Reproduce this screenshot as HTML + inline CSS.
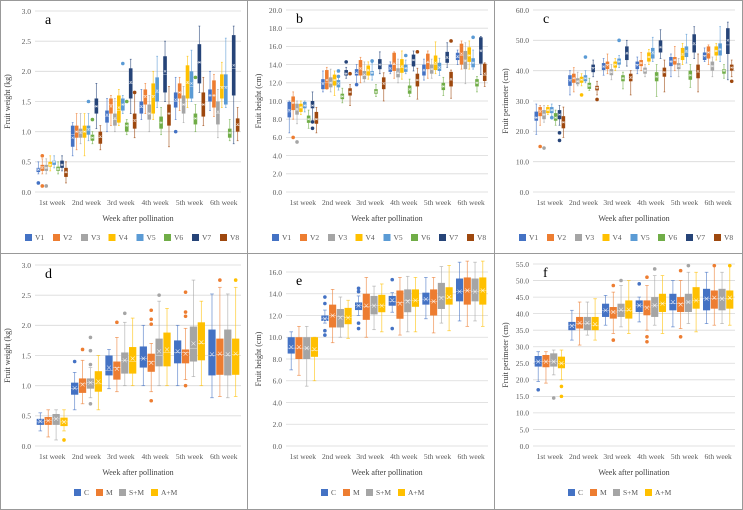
<!DOCTYPE html>
<html><head><meta charset="utf-8">
<style>
html,body{margin:0;padding:0;background:#fff;}
svg{display:block;font-family:"Liberation Serif",serif;}
</style></head>
<body>
<svg id="chart" width="743" height="510" viewBox="0 0 743 510" xmlns="http://www.w3.org/2000/svg">
<rect x="0.5" y="0.5" width="742" height="509" fill="#fff" stroke="#999"/>
<line x1="247.5" y1="0" x2="247.5" y2="510" stroke="#999"/>
<line x1="494.5" y1="0" x2="494.5" y2="510" stroke="#999"/>
<line x1="0" y1="253.5" x2="743" y2="253.5" stroke="#999"/>
</svg>
<script>
const weeks = ["1st week","2nd week","3rd week","4th week","5th week","6th week"];
const varieties = ["V1","V2","V3","V4","V5","V6","V7","V8"];
const treatments = ["C","M","S+M","A+M"];
const varColors = ["#4472C4","#ED7D31","#A5A5A5","#FFC000","#5B9BD5","#70AD47","#264478","#9E480E"];
const trtColors = ["#4472C4","#ED7D31","#A5A5A5","#FFC000"];
// each box: [min, q1, median, q3, max, mean]
const aV1=[[0.3,0.33,0.38,0.4,0.5,0.37],[0.6,0.75,0.95,1.1,1.15,0.9],[1.0,1.15,1.25,1.35,1.55,1.28],[1.2,1.3,1.4,1.5,1.7,1.42],[1.2,1.4,1.5,1.65,1.9,1.53],[1.35,1.5,1.6,1.7,2.0,1.6]];
const aV2=[[0.3,0.35,0.42,0.45,0.55,0.4],[0.7,0.9,1.0,1.1,1.3,1.0],[1.1,1.3,1.45,1.55,1.6,1.42],[1.3,1.45,1.6,1.7,1.8,1.58],[1.35,1.55,1.65,1.8,1.9,1.65],[1.25,1.4,1.6,1.85,1.95,1.6]];
const aV3=[[0.3,0.35,0.4,0.45,0.55,0.4],[0.8,0.9,1.0,1.05,1.3,0.98],[1.0,1.1,1.2,1.3,1.55,1.22],[1.0,1.2,1.3,1.45,1.6,1.3],[1.15,1.3,1.45,1.6,1.75,1.45],[0.9,1.12,1.3,1.5,1.7,1.33]];
const aV4=[[0.35,0.42,0.45,0.5,0.6,0.45],[0.6,0.9,1.0,1.1,1.3,1.0],[1.1,1.15,1.35,1.6,1.7,1.4],[1.2,1.3,1.6,1.8,2.0,1.58],[1.4,1.55,1.8,2.1,2.25,1.82],[1.4,1.55,1.75,1.95,2.15,1.73]];
const aV5=[[0.4,0.45,0.5,0.52,0.6,0.5],[0.85,0.95,1.05,1.1,1.3,1.03],[1.3,1.35,1.45,1.55,1.6,1.45],[1.4,1.5,1.65,1.9,2.25,1.68],[1.5,1.55,1.75,2.0,2.35,1.8],[1.4,1.45,1.75,1.95,2.55,1.73]];
const aV6=[[0.3,0.35,0.38,0.42,0.5,0.38],[0.8,0.85,0.9,0.95,1.0,0.9],[0.95,1.0,1.1,1.15,1.2,1.1],[0.95,1.05,1.15,1.25,1.4,1.15],[1.0,1.12,1.22,1.3,1.45,1.22],[0.85,0.9,0.98,1.05,1.2,0.98]];
const aV7=[[0.35,0.4,0.45,0.52,0.6,0.45],[1.05,1.3,1.42,1.55,1.8,1.42],[1.3,1.55,1.8,2.05,2.2,1.82],[1.5,1.65,1.95,2.25,2.5,2.0],[1.65,1.8,2.15,2.45,2.75,2.15],[0.8,1.6,2.05,2.6,2.75,2.1]];
const aV8=[[0.15,0.25,0.32,0.4,0.5,0.33],[0.7,0.8,0.9,1.0,1.1,0.92],[0.9,1.05,1.2,1.3,1.65,1.18],[0.75,1.1,1.3,1.45,1.75,1.3],[1.1,1.25,1.45,1.65,1.9,1.45],[0.85,1.0,1.1,1.22,1.4,1.12]];
const aOut=[[0,0,0.15],[0,1,0.6],[0,1,0.1],[0,2,0.1],[1,4,1.5],[1,5,1.2],[2,4,2.13],[2,5,1.5],[4,0,1.0],[4,5,1.9],[2,7,1.65]];

const bV1=[[6.5,8.2,8.8,9.9,10,9.0],[11,11.3,12,12.4,13.3,11.9],[11.8,12.8,13,13.5,14,13.1],[13,13.2,13.5,14,14.3,13.6],[12.3,12.8,13.3,14,14.6,13.4],[14,14.5,14.8,15.3,15.6,14.9]];
const bV2=[[8,9,9.8,10.5,11,9.8],[11.3,11.3,12,13.4,13.7,12.3],[12,12.8,13.5,14.5,14.8,13.6],[12.5,13.3,14,15.3,15.4,14.1],[12.5,13.5,14.2,15.2,15.5,14.3],[13.5,14,15,16.3,16.6,15.2]];
const bV3=[[7.5,8.5,9,9.7,10,9.1],[11,11.5,12,12.6,13.5,12],[12.1,12.4,12.8,13.3,14.3,12.9],[12,12.6,13,13.6,14.6,13.1],[12.5,13,13.5,14,14.6,13.5],[11.9,13.5,14.5,15.5,16.4,14.4]];
const bV4=[[8.5,8.8,9.3,9.7,10,9.3],[10.6,11.7,12.3,12.9,13.3,12.3],[12.4,12.8,13.3,13.9,14.3,13.4],[12.4,13.1,13.7,14.6,15.5,13.8],[13,13.4,14,15,16.5,14.2],[13.5,14.3,15,15.9,16.6,15]];
const bV5=[[8.8,9.2,9.5,9.9,10,9.5],[11.2,11.5,12,12.3,12.7,11.9],[12.3,12.8,13.1,13.3,14.2,13.1],[13,13.2,13.6,14,14.5,13.6],[12.8,13.3,13.6,14.2,14.7,13.7],[13.5,13.7,14.2,14.7,15.6,14.2]];
const bV6=[[7,7.6,8,8.4,9,8],[9.8,10.2,10.5,10.8,11.4,10.5],[10.5,10.8,11,11.3,11.8,11],[10.5,10.8,11.2,11.7,12.4,11.3],[10.6,11.2,11.6,12,12.6,11.6],[11,11.6,12,12.4,12.7,12]];
const bV7=[[7.6,9.2,9.5,10,11,9.5],[12.5,12.8,13,13.4,13.7,13],[13,13.5,14,14.6,15.4,14],[13.3,13.8,14.5,15.1,15.5,14.5],[13.7,14.2,14.7,15.4,16.4,14.8],[12.9,14.1,15.6,17,17.1,15.5]];
const bV8=[[6.5,7.5,8,8.8,9.3,8],[9.5,10.6,11,11.4,11.8,11],[10,11.3,12,12.6,13.1,11.9],[10.2,11.6,12.3,13,13.6,12.3],[10.3,11.6,12.3,13.2,13.4,12.4],[11.6,12.2,12.8,14.1,14.2,13]];
const bOut=[[0,1,6],[0,2,5.5],[0,6,7],[0,6,7.7],[1,6,14.3],[1,7,13],[1,4,13.3],[1,4,12.7],[2,0,11.8],[2,4,14.4],[3,7,15.4],[3,4,15],[4,7,16.6],[5,4,17]];

const cV1=[[19,23.5,24.5,26.5,29,24.5],[32,35,37,38.5,40,36.8],[38.5,40.2,41.5,42.5,44,41.3],[39,40.5,42,43,44.5,41.8],[38,41.5,43,44.5,45.5,43],[43,43.5,45,46,47.5,44.8]];
const cV2=[[22,25,27,28,28.5,26.5],[33,36,37.5,39,41,37.5],[39,40.5,42,43,45.5,41.8],[40,41.5,42.5,43.5,46,42.5],[40,42,43.5,44.5,48,43.5],[42,44,46,48,48.5,46]];
const cV3=[[23,24,25.5,27,28.5,25.5],[35,35.5,36.5,37.5,39.5,36.5],[37,38.5,39.5,40.5,42,39.5],[38,39,40,41,42,40],[38,40.5,41.5,42.5,44,41.5],[38,40,41.5,43,44.5,41.5]];
const cV4=[[25.5,26,27,28,28.5,27],[35,36,37,38,39,37],[40,41,42,43,44,42],[42,43,44.5,46,47,44.5],[42,43.5,45,47.5,49,45.5],[43.5,45,46.5,48,49,46.5]];
const cV5=[[25,26,27,28,29,27],[36,36.5,37.5,38.5,40,37.5],[41,42,43,44,45,43],[43,44,45.5,47.5,51,46],[42.5,44.5,46,48,52,46.5],[43,45,47,49,54.5,47]];
const cV6=[[22,23.5,24.5,26,27,24.5],[33.5,34,35,36,37.5,35],[34,36.5,37.5,38.5,39.5,37.5],[31.5,36.5,38,39.5,42,38],[34.5,37,38.5,40,42,38.5],[37.5,39,40,40.5,42,40]];
const cV7=[[22,24,25.5,27,28.5,25.5],[38,39.5,41,42,43.5,40.8],[41.5,43.5,45.5,48,50,45.8],[44,46,47.5,50,53.5,47.8],[44,46,48.5,52,54.5,49],[37,45.5,48.5,54,56,50]];
const cV8=[[18,21,23,25,28,23],[32,33.5,34.5,35,36.5,34.3],[32,36.5,37.5,39,40,37.8],[33,38,39.5,41,43.5,39.5],[33,37.5,39.5,42,45.5,39.8],[38,40,41,42,43.5,41]];
const cOut=[[0,1,15],[0,2,14.5],[0,6,19.5],[0,6,17],[0,4,24.5],[1,3,32],[1,4,44.5],[1,7,30.5],[2,4,50],[5,7,36.5]];

const dC=[[0.25,0.35,0.4,0.45,0.55,0.41],[0.6,0.85,0.95,1.05,1.22,0.96],[0.95,1.17,1.25,1.5,1.6,1.3],[1.0,1.3,1.45,1.65,2.0,1.45],[1.0,1.37,1.55,1.75,2.0,1.57],[0.8,1.17,1.5,1.93,2.52,1.52]];
const dM=[[0.15,0.35,0.42,0.48,0.6,0.42],[0.7,0.88,1.03,1.12,1.42,1.02],[0.9,1.1,1.3,1.4,1.8,1.28],[0.9,1.23,1.4,1.53,1.7,1.38],[1.1,1.37,1.55,1.6,1.95,1.53],[0.82,1.18,1.52,1.78,2.63,1.53]];
const dSM=[[0.1,0.35,0.45,0.53,0.6,0.45],[0.8,0.95,1.05,1.12,1.3,1.05],[1.0,1.2,1.42,1.55,2.05,1.42],[1.0,1.32,1.5,1.78,2.4,1.57],[1.15,1.4,1.62,1.98,2.75,1.7],[0.8,1.17,1.5,1.93,2.52,1.52]];
const dAM=[[0.25,0.33,0.4,0.47,0.6,0.4],[0.6,0.9,1.03,1.24,1.5,1.07],[1.0,1.2,1.4,1.64,2.12,1.45],[1.0,1.32,1.55,1.88,2.28,1.6],[1.0,1.42,1.7,2.05,2.4,1.72],[0.82,1.18,1.52,1.78,2.63,1.53]];
const dOut=[[1,0,1.4],[1,1,1.6],[1,2,1.8],[1,2,1.58],[1,2,1.35],[1,2,0.7],[0,3,0.1],[2,1,2.05],[2,2,2.2],[3,1,2.25],[3,1,2.1],[3,1,2.02],[3,1,0.75],[3,2,2.5],[4,1,2.55],[4,1,2.22],[4,1,2.15],[4,1,1.0],[5,1,2.75],[5,3,2.75]];

const eC=[[7,8.5,9,10,10.5,9.1],[11.3,11.5,11.7,12,12.5,11.7],[12,12.5,12.9,13.2,13.8,12.9],[12.3,12.9,13.3,13.8,14.1,13.4],[11.7,13,13.5,14.1,15.5,13.5],[11.5,13.3,14.2,15.4,16.9,14.2]];
const eM=[[6.5,8,9,10,11,9.1],[9.5,10.9,12,13,14.4,12],[10,11.6,12.8,14,15.5,12.9],[10.2,11.7,13.2,14.3,15.5,13.1],[10.4,12,13.3,14.4,15.5,13.3],[11,13,14.3,15.5,17,14.3]];
const eSM=[[5.5,8,9,10,11,9],[10,10.9,11.9,12.6,13.7,11.8],[10.7,12.1,12.9,13.8,14.7,12.9],[10.5,12.3,13.4,14.4,15.6,13.3],[11.3,12.6,13.7,15,16.5,13.6],[11.5,13.3,14.2,15.4,16.9,14.2]];
const eAM=[[6,8.2,8.8,10,10,8.9],[9.9,11.2,11.8,12.7,13.4,11.8],[10.5,12.3,12.9,13.9,14.9,12.9],[10.5,12.8,13.4,14.4,15.5,13.4],[10.6,13,13.6,14.6,16.6,13.7],[11,13,14.3,15.5,17,14.3]];
const eOut=[[1,0,13.7],[1,0,13.1],[1,0,10.6],[1,0,10.2],[2,0,14.5],[2,0,14.2],[2,0,11.3],[2,0,10.8],[3,0,15.3],[3,0,10.8]];

const fC=[[19.5,24,25.5,27.2,28.5,25.5],[32,35,36.5,37.5,41,36.3],[36.5,39,41,43,45.5,41],[37.5,40.5,42.5,44,45,42.5],[36,41,43,46,50,43.5],[37,41,44.5,47.5,52.5,44.5]];
const fM=[[19,23.8,25.5,27.5,28.5,25.5],[30.5,35.5,37,39,43.5,37.2],[34,38.5,40.5,42,46.5,40.5],[35,39.5,42,44,48.5,41.8],[35.5,40.5,43,45,50,42.8],[36.5,41.5,44.5,47,54.5,44.8]];
const fSM=[[21.5,24,25.5,28,29,25.5],[33.5,35,37,39,43.5,37.2],[36,39,41,43,48.5,41.2],[36.5,39,42.5,45,51.5,42.5],[37,40.5,43.5,46,52.5,43.5],[37,41,44.5,47.5,52.5,44.5]];
const fAM=[[20,23.5,25,27,29,25],[32,35,36.5,39,44.5,36.8],[34,38.5,41,44,50,41.2],[34,40.5,43,46,51.5,43],[34.5,41.5,44,48,52.5,44],[36.5,41.5,44.5,47,54.5,44.8]];
const fOut=[[0,0,17],[0,2,14.5],[0,3,18],[0,3,15],[2,1,48.5],[2,1,32],[2,2,50],[3,0,49],[3,1,51],[3,1,33],[3,1,31.5],[3,2,53.5],[4,1,53],[4,1,33],[4,2,54.5],[5,1,54.5],[5,3,54.5]];

const aTicks=["0.0","0.5","1.0","1.5","2.0","2.5","3.0"];
const bTicks=["0.0","2.0","4.0","6.0","8.0","10.0","12.0","14.0","16.0","18.0","20.0"];
const cTicks=["0.0","10.0","20.0","30.0","40.0","50.0","60.0"];
const dTicks=aTicks;
const eTicks=["0.0","2.0","4.0","6.0","8.0","10.0","12.0","14.0","16.0"];
const fTicks=["0.0","5.0","10.0","15.0","20.0","25.0","30.0","35.0","40.0","45.0","50.0","55.0"];

const NS="http://www.w3.org/2000/svg";
const svg=document.getElementById('chart');
function mk(tag,attrs,parent){const e=document.createElementNS(NS,tag);for(const k in attrs)e.setAttribute(k,attrs[k]);(parent||svg).appendChild(e);return e;}

function panel(cfg){
  const g=mk('g',{});
  
  
  const ticks=cfg.ticks;
  const tmin=parseFloat(ticks[0]), tmax=parseFloat(ticks[ticks.length-1]);
  const y=v=>cfg.yBot-(v-tmin)/(tmax-tmin)*(cfg.yBot-cfg.yTop);
  const catW=(cfg.R-cfg.L)/weeks.length;
  ticks.forEach(t=>{
    const v=parseFloat(t);
    const gl=mk('line',{x1:cfg.L,x2:cfg.R,y1:y(v),y2:y(v),stroke:'#d9d9d9','stroke-width':0.8},g);
    
    
    const tl=mk('text',{x:cfg.L-4,y:y(v)+2.8,'font-size':7.5,'text-anchor':'end',fill:'#595959'},g);
    tl.textContent=t;
    
    
  });
  const yt=mk('text',{x:0,y:0,'font-size':8,'text-anchor':'middle',fill:'#404040',transform:`translate(${cfg.L-25},${(cfg.yTop+cfg.yBot)/2}) rotate(-90)`},g);
  yt.textContent=cfg.ytitle;
  
  
  const lt=mk('text',{x:cfg.L+10,y:cfg.yTop+13,'font-size':14,fill:'#000'},g);
  lt.textContent=cfg.letter;
  
  
  weeks.forEach((w,i)=>{
    const t=mk('text',{x:cfg.L+catW*(i+0.5),y:cfg.yBot+13,'font-size':7.5,'text-anchor':'middle',fill:'#595959'},g);
    t.textContent=w;
    
    
  });
  const xt=mk('text',{x:(cfg.L+cfg.R)/2,y:cfg.yBot+29,'font-size':8,'text-anchor':'middle',fill:'#404040'},g);
  xt.textContent='Week after pollination';
  
  
  const n=cfg.series.length;
  const groupW=catW*0.92, slot=groupW/n, bw=slot*0.92;
  const bx=(wi,si)=>cfg.L+catW*wi+(catW-groupW)/2+slot*si+slot/2;
  cfg.series.forEach((data,si)=>{
    const col=cfg.colors[si];
    data.forEach((d,wi)=>{
      const cx=bx(wi,si);
      const bg=mk('g',{},g);
      
      
      mk('line',{x1:cx,x2:cx,y1:y(d[0]),y2:y(d[4]),stroke:col,'stroke-width':0.8,opacity:0.7},bg);
      mk('line',{x1:cx-bw*0.25,x2:cx+bw*0.25,y1:y(d[0]),y2:y(d[0]),stroke:col,'stroke-width':0.8,opacity:0.7},bg);
      mk('line',{x1:cx-bw*0.25,x2:cx+bw*0.25,y1:y(d[4]),y2:y(d[4]),stroke:col,'stroke-width':0.8,opacity:0.7},bg);
      mk('rect',{x:cx-bw/2,y:y(d[3]),width:bw,height:Math.max(0.8,y(d[1])-y(d[3])),fill:col},bg);
      mk('line',{x1:cx-bw/2,x2:cx+bw/2,y1:y(d[2]),y2:y(d[2]),stroke:'#fff','stroke-width':0.6,opacity:0.6},bg);
      const m=y(d[5]), s=Math.min(2,bw*0.3);
      mk('path',{d:`M${cx-s},${m-s}L${cx+s},${m+s}M${cx-s},${m+s}L${cx+s},${m-s}`,stroke:'#fff','stroke-width':0.6,opacity:0.8},bg);
    });
  });
  cfg.out.forEach(o=>{
    const c=mk('circle',{cx:bx(o[0],o[1]),cy:y(o[2]),r:1.8,fill:cfg.colors[o[1]]},g);
    
    
  });
  // legend
  let lx=cfg.legendX;
  cfg.names.forEach((nm,i)=>{
    const lg=mk('g',{},g);
    
    
    mk('rect',{x:lx,y:cfg.legendY-6,width:7,height:7,fill:cfg.colors[i]},lg);
    const t=mk('text',{x:lx+10,y:cfg.legendY,'font-size':7.5,fill:'#595959'},lg);
    t.textContent=nm;
    lx+=cfg.legendStep[i];
  });
}
const topStep=[28,28,27.5,28,27.5,28,28,28];
const botStep=[22,23,32,30];
panel({letter:'a',L:35,R:241,yTop:11,yBot:192,ticks:aTicks,ytitle:'Fruit weight (kg)',series:[aV1,aV2,aV3,aV4,aV5,aV6,aV7,aV8],colors:varColors,names:varieties,out:aOut,legendX:25,legendY:240,legendStep:topStep});
panel({letter:'b',L:286,R:488,yTop:10,yBot:192,ticks:bTicks,ytitle:'Fruit height (cm)',series:[bV1,bV2,bV3,bV4,bV5,bV6,bV7,bV8],colors:varColors,names:varieties,out:bOut,legendX:272,legendY:240,legendStep:topStep});
panel({letter:'c',L:533,R:735,yTop:10,yBot:192,ticks:cTicks,ytitle:'Fruit perimeter (cm)',series:[cV1,cV2,cV3,cV4,cV5,cV6,cV7,cV8],colors:varColors,names:varieties,out:cOut,legendX:519,legendY:240,legendStep:topStep});
panel({letter:'d',L:35,R:241,yTop:265,yBot:446,ticks:dTicks,ytitle:'Fruit weight (kg)',series:[dC,dM,dSM,dAM],colors:trtColors,names:treatments,out:dOut,legendX:74,legendY:495,legendStep:botStep});
panel({letter:'e',L:286,R:488,yTop:272,yBot:446,ticks:eTicks,ytitle:'Fruit height (cm)',series:[eC,eM,eSM,eAM],colors:trtColors,names:treatments,out:eOut,legendX:321,legendY:495,legendStep:botStep});
panel({letter:'f',L:533,R:735,yTop:264,yBot:446,ticks:fTicks,ytitle:'Fruit perimeter (cm)',series:[fC,fM,fSM,fAM],colors:trtColors,names:treatments,out:fOut,legendX:568,legendY:495,legendStep:botStep});
</script>
</body></html>
